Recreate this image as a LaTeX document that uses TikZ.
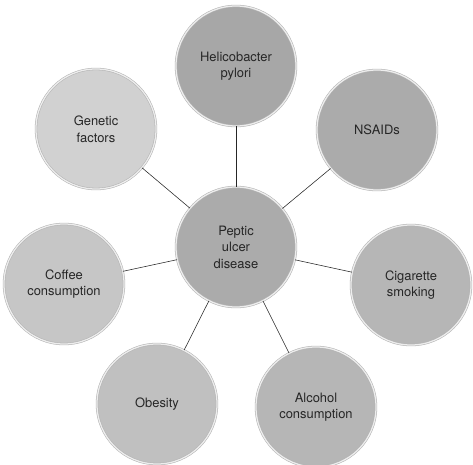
\documentclass[tikz,border=0pt]{standalone}
\usepackage{fontspec}
\setmainfont{TeX Gyre Heros}
\usetikzlibrary{positioning}
\definecolor{grisuno}{HTML}{A7A7A7}
\definecolor{grisdos}{HTML}{ABABAB}
\definecolor{gristres}{HTML}{B6B6B6}
\definecolor{griscuatro}{HTML}{C0C0C0}
\definecolor{griscinco}{HTML}{C6C6C6}
\definecolor{grisseis}{HTML}{D1D1D1}
\definecolor{borde}{HTML}{B4B4B4}
\definecolor{brillo}{HTML}{EDEDED}
\tikzset{
  every picture/.style={font=\fontsize{9.2}{11.8}\selectfont},
  causa/.style={circle, draw=borde, double=brillo, double distance=0.9pt, thin,
                minimum size=3cm, inner sep=0pt, align=center, text=black!85},
  enlace/.style={thin, black!85},
}

\begin{document}
\begin{tikzpicture}[x=0.025cm, y=-0.025cm]
  \useasboundingbox (0,0) rectangle (473,465);
  \node[causa, fill=grisdos] (c) at (236,247) {Peptic\\ulcer\\disease};
  \foreach \nombre/\x/\y/\tono/\texto in {
      h/236/66/grisuno/{Helicobacter\\pylori},
      n/377/130/grisdos/{NSAIDs},
      s/411/285/gristres/{Cigarette\\smoking},
      a/316/407/gristres/{Alcohol\\consumption},
      o/157/404/griscuatro/{Obesity},
      f/64/284/griscinco/{Coffee\\consumption},
      g/96/129/grisseis/{Genetic\\factors}} {
    \node[causa, fill=\tono] (\nombre) at (\x,\y) {\texto};
    \draw[enlace] (c) -- (\nombre);
  }
\end{tikzpicture}
\end{document}
